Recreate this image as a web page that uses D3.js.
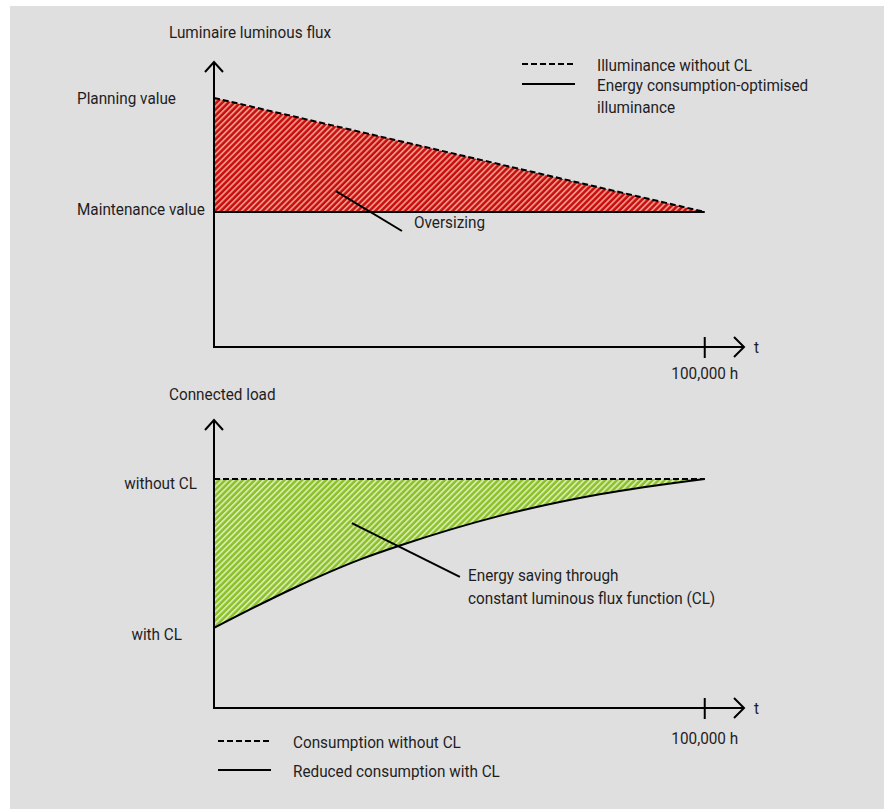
<!DOCTYPE html>
<html>
<head>
<meta charset="utf-8">
<script src="https://cdn.jsdelivr.net/npm/d3@7"></script>
<style>
  html, body { margin: 0; padding: 0; background: #ffffff; }
  svg text { font-family: "Roboto", "Open Sans", sans-serif; fill: #1e1e1e; }
</style>
</head>
<body>
<svg id="chart" width="884" height="809"></svg>
<script>
// ---------- data ----------
const hoursEnd = 100000;                       // end of life marker
const xAxisLabel = "t";
const endTickLabel = "100,000 h";

// top panel: luminaire luminous flux (relative units, 0 = axis origin)
const fluxTitle = "Luminaire luminous flux";
const fluxLevels = ["Planning value", "Maintenance value"];
const fluxLevelValues = [87.4, 47.4];
const fluxHours = [0, 100000];
const fluxWithoutCL = [87.4, 47.4];           // dashed (illuminance without CL)
const fluxOptimised = [47.4, 47.4];           // solid (energy-optimised illuminance)
const fluxLegend = ["Illuminance without CL", "Energy consumption-optimised\nilluminance"];
const fluxNote = "Oversizing";

// bottom panel: connected load (relative units)
const loadTitle = "Connected load";
const loadLevels = ["without CL", "with CL"];
const loadLevelValues = [79.5, 27.8];
const loadHours = [0, 16100, 29700, 37900, 58200, 78600, 100000];
const loadWithoutCL = [79.5, 79.5, 79.5, 79.5, 79.5, 79.5, 79.5];
const loadWithCL = [27.8, 41.5, 51.5, 56.4, 66.7, 74.2, 79.5];
const loadLegend = ["Consumption without CL", "Reduced consumption with CL"];
const loadNote = ["Energy saving through", "constant luminous flux function (CL)"];

// ---------- layout ----------
const svg = d3.select("#chart");
svg.append("rect").attr("x", 10).attr("y", 6).attr("width", 874).attr("height", 803).attr("fill", "#e0dfe0");

const defs = svg.append("defs");
function hatch(id, base, light) {
  const p = defs.append("pattern").attr("id", id).attr("patternUnits", "userSpaceOnUse")
    .attr("width", 4.2).attr("height", 4.2).attr("patternTransform", "rotate(45)");
  p.append("rect").attr("width", 4.2).attr("height", 4.2).attr("fill", base);
  p.append("rect").attr("x", 0).attr("width", 1.8).attr("height", 4.2).attr("fill", light);
}
hatch("hatchRed", "#c80c10", "#ee9480");
hatch("hatchGreen", "#8cc02a", "#d4eaa8");

const x = d3.scaleLinear().domain([0, 108000]).range([214, 744]);
const FS = 17;
const SX = 0.9;   // condensed look

function txt(g, px, py, s, anchor) {
  return g.append("text").attr("transform", `translate(${px},${py}) scale(${SX},1)`)
    .attr("text-anchor", anchor || "start").attr("dominant-baseline", "central")
    .attr("font-size", FS).text(s);
}

function panel(cfg) {
  const y = d3.scaleLinear().domain([0, 100]).range([cfg.y0, cfg.y0 - cfg.h]);
  const g = svg.append("g");
  const pts = (hs, vs) => hs.map((h, i) => [h, vs[i]]);

  const upper = pts(cfg.hours, cfg.upper);
  const lower = pts(cfg.hours, cfg.lower);
  const areaL = d3.area().x(d => x(d[0])).y0(d => y(d[1])).y1((d, i) => y(upper[i][1])).curve(d3.curveMonotoneX);
  g.append("path").datum(lower).attr("d", areaL).attr("fill", cfg.fill);

  const line = d3.line().x(d => x(d[0])).y(d => y(d[1])).curve(d3.curveMonotoneX);
  g.append("path").datum(lower).attr("d", line).attr("fill", "none").attr("stroke", "#000").attr("stroke-width", 2);
  g.append("path").datum(upper).attr("d", line).attr("fill", "none").attr("stroke", "#000").attr("stroke-width", 2)
    .attr("stroke-dasharray", "6,3");

  const axCol = "#000";
  g.append("line").attr("x1", x(0)).attr("x2", x(0)).attr("y1", y(0) + 1).attr("y2", y(100)).attr("stroke", axCol).attr("stroke-width", 2);
  g.append("polyline").attr("points", `${x(0) - 9},${y(100) + 10} ${x(0)},${y(100)} ${x(0) + 9},${y(100) + 10}`)
    .attr("fill", "none").attr("stroke", axCol).attr("stroke-width", 2);
  g.append("line").attr("x1", x(0) - 1).attr("x2", x(108000)).attr("y1", y(0)).attr("y2", y(0)).attr("stroke", axCol).attr("stroke-width", 2);
  g.append("polyline").attr("points", `${x(108000) - 10},${y(0) - 10} ${x(108000)},${y(0)} ${x(108000) - 10},${y(0) + 10}`)
    .attr("fill", "none").attr("stroke", axCol).attr("stroke-width", 2);
  g.append("line").attr("x1", x(hoursEnd)).attr("x2", x(hoursEnd)).attr("y1", y(0) - 10).attr("y2", y(0) + 11)
    .attr("stroke", axCol).attr("stroke-width", 2);
  txt(g, x(108000) + 10, y(0), xAxisLabel);
  txt(g, x(hoursEnd), y(0) + cfg.tickLabelDy, endTickLabel, "middle");

  txt(g, 169, cfg.titleY, cfg.title);

  cfg.levels.forEach((lab, i) => {
    const L = cfg.levelPos[i];
    txt(g, L.x, y(cfg.levelValues[i]) + L.dy, lab, L.anchor);
  });

  g.append("line").attr("x1", x(cfg.leader[0][0])).attr("y1", y(cfg.leader[0][1]))
    .attr("x2", x(cfg.leader[1][0])).attr("y2", y(cfg.leader[1][1])).attr("stroke", "#000").attr("stroke-width", 2);
  cfg.note.forEach((t, i) => txt(g, cfg.noteX, cfg.noteY + i * 23, t));

  cfg.legend.forEach((t, i) => {
    const ly = cfg.legendY + i * cfg.legendStep;
    const ln = g.append("line").attr("x1", cfg.legendX).attr("x2", cfg.legendX + 53).attr("y1", ly).attr("y2", ly)
      .attr("stroke", "#000").attr("stroke-width", 2);
    if (i === 0) ln.attr("stroke-dasharray", "6,3");
    t.split("\n").forEach((s, j) => txt(g, cfg.legendX + 75, ly + 1 + j * 22, s));
  });
}

panel({
  y0: 347, h: 285, title: fluxTitle, titleY: 32,
  hours: fluxHours, upper: fluxWithoutCL, lower: fluxOptimised, fill: "url(#hatchRed)",
  levels: fluxLevels, levelValues: fluxLevelValues,
  levelPos: [{x: 77, anchor: "start", dy: 0}, {x: 77, anchor: "start", dy: -3}],
  tickLabelDy: 26,
  leader: [[24850, 54.7], [38300, 40.7]], note: [fluxNote], noteX: 414, noteY: 222,
  legend: fluxLegend, legendX: 522, legendY: 64, legendStep: 20
});

panel({
  y0: 708, h: 288, title: loadTitle, titleY: 394,
  hours: loadHours, upper: loadWithoutCL, lower: loadWithCL, fill: "url(#hatchGreen)",
  levels: loadLevels, levelValues: loadLevelValues,
  levelPos: [{x: 197, anchor: "end", dy: 4}, {x: 182, anchor: "end", dy: 6}],
  tickLabelDy: 30,
  leader: [[28100, 64.2], [50100, 45.5]], note: loadNote, noteX: 468, noteY: 575,
  legend: loadLegend, legendX: 218, legendY: 741, legendStep: 29
});
</script>
</body>
</html>
